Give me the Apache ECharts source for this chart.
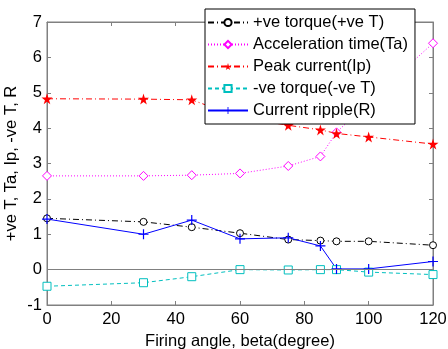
<!DOCTYPE html>
<html>
<head>
<meta charset="utf-8">
<script src="https://cdn.jsdelivr.net/npm/echarts@6/dist/echarts.min.js"></script>
<style>
  html, body { margin: 0; padding: 0; background: #fff; }
  #chart { width: 448px; height: 349px; }
</style>
</head>
<body>
<div id="chart"></div>
<script>
const beta = [0, 30, 45, 60, 75, 85, 90, 100, 120];
const posTorque = [1.45, 1.35, 1.2, 1.03, 0.85, 0.82, 0.8, 0.8, 0.69];
const accelTime = [2.65, 2.65, 2.67, 2.72, 2.93, 3.2, 3.88, 4.75, 6.4];
const peakCurrent = [4.83, 4.82, 4.8, 4.3, 4.08, 3.95, 3.85, 3.75, 3.55];
const negTorque = [-0.47, -0.37, -0.2, 0.0, -0.01, 0.0, 0.0, -0.07, -0.14];
const ripple = [1.43, 1.0, 1.4, 0.87, 0.9, 0.67, 0.02, 0.02, 0.23];

const font = "'Liberation Sans', Arial, sans-serif";
const fs = 16.5;
const axisGray = "#808080";
const star = "path://M50,0L61,35H98L68,57L79,91L50,70L21,91L32,57L2,35H39Z";
const plus = "path://M4.4,0h1.2v10h-1.2zM0,4.4h10v1.2h-10z";

const pairs = (ys) => beta.map((b, i) => [b, ys[i]]);

const chart = echarts.init(document.getElementById("chart"));

const mkSeries = (name, ys, color, lineType, symbol, size, filled) => ({
  name: name,
  type: "line",
  data: pairs(ys),
  symbol: symbol,
  symbolSize: size,
  showSymbol: true,
  lineStyle: { color: color, width: 1, type: lineType },
  itemStyle: {
    color: filled ? color : "#fff",
    borderColor: color,
    borderWidth: filled ? 0 : 1,
  },
  emphasis: { disabled: true },
  animation: false,
});

const tick = { inside: true, length: 4, lineStyle: { color: axisGray } };

chart.setOption({
  animation: false,
  textStyle: { fontFamily: font },
  grid: {
    left: 47, right: 15, top: 22, bottom: 44,
    outerBoundsMode: "none", containLabel: false,
    show: true, borderColor: axisGray, borderWidth: 1,
  },
  legend: {
    orient: "vertical",
    left: 205,
    top: 9,
    padding: [5, 7, 5, 2],
    itemWidth: 40,
    itemHeight: 9,
    itemGap: 5,
    backgroundColor: "#fff",
    borderColor: "#000",
    borderWidth: 1,
    textStyle: { fontFamily: font, fontSize: fs, color: "#000", lineHeight: 16 },
    z: 10,
  },
  xAxis: [
    {
      type: "value", min: 0, max: 120, interval: 20,
      name: "Firing angle, beta(degree)", nameLocation: "middle", nameGap: 24,
      nameTextStyle: { fontSize: fs, color: "#000", fontFamily: font },
      axisLine: { onZero: false, lineStyle: { color: axisGray } },
      axisTick: tick,
      axisLabel: { fontSize: fs, color: "#000", margin: 6, fontFamily: font },
      splitLine: { show: false },
    },
    {
      type: "value", min: 0, max: 120, interval: 20, position: "top",
      axisLine: { onZero: false, lineStyle: { color: axisGray } },
      axisTick: tick,
      axisLabel: { show: false }, splitLine: { show: false },
    },
  ],
  yAxis: [
    {
      type: "value", min: -1, max: 7, interval: 1,
      name: "+ve T, Ta, Ip, -ve T, R", nameLocation: "middle", nameGap: 27,
      nameMoveOverlap: false,
      nameTextStyle: { fontSize: fs, color: "#000", fontFamily: font },
      axisLine: { show: true, onZero: false, lineStyle: { color: axisGray } },
      axisTick: Object.assign({ show: true }, tick),
      axisLabel: { fontSize: fs, color: "#000", margin: 5, fontFamily: font },
      splitLine: { show: false },
    },
    {
      type: "value", min: -1, max: 7, interval: 1, position: "right",
      axisLine: { show: true, onZero: false, lineStyle: { color: axisGray } },
      axisTick: Object.assign({ show: true }, tick),
      axisLabel: { show: false }, splitLine: { show: false },
    },
  ],
  series: [
    Object.assign(mkSeries("+ve torque(+ve T)", posTorque, "#000", [6, 3, 1, 3], "circle", 7, false), {
      markLine: {
        silent: true, symbol: "none", label: { show: false },
        lineStyle: { color: axisGray, type: "solid", width: 1 },
        data: [{ yAxis: 0 }],
        animation: false,
      },
    }),
    mkSeries("Acceleration time(Ta)", accelTime, "#ff00ff", [1, 2], "diamond", 9, false),
    mkSeries("Peak current(Ip)", peakCurrent, "#ff0000", [6, 3, 1, 3], star, 11, true),
    mkSeries("-ve torque(-ve T)", negTorque, "#00bfbf", [4, 3], "rect", 8, false),
    mkSeries("Current ripple(R)", ripple, "#0000ff", "solid", plus, 10, true),
  ],
});
</script>
</body>
</html>
